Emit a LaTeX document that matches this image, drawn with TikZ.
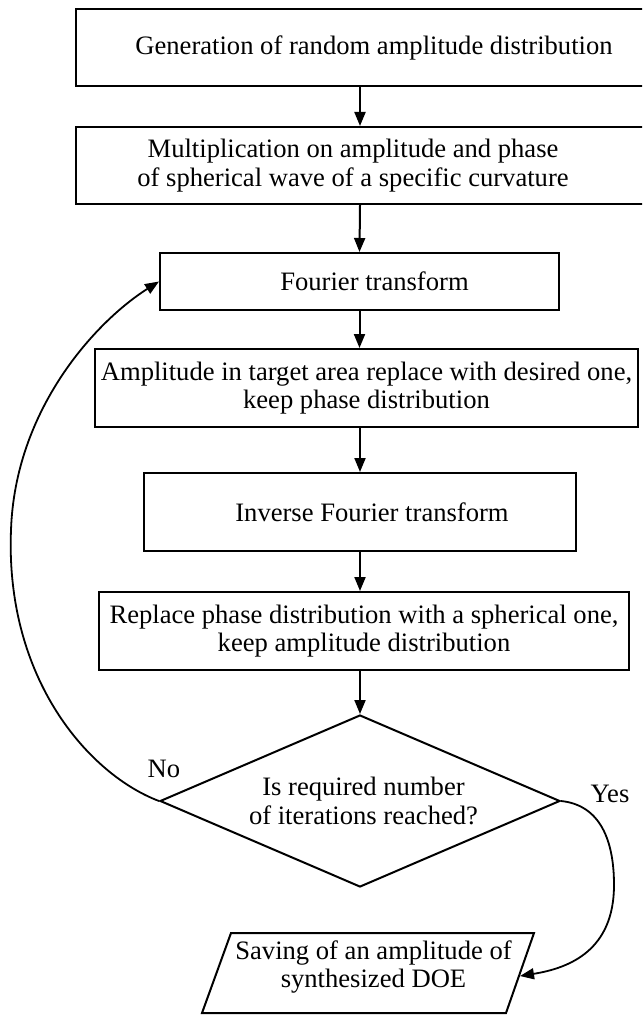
\documentclass[tikz,border=0pt]{standalone}
\usepackage{fontspec}
\setmainfont{Liberation Serif}
\usetikzlibrary{arrows.meta,shapes.geometric}
\newcommand\figfont{\fontsize{26.6}{28.5}\selectfont}
\tikzset{
  box/.style={draw, line width=2pt, inner sep=2pt, align=center, font=\figfont},
  decision/.style={draw, diamond, line width=2pt, inner sep=0pt, align=center, font=\figfont, aspect=2.33},
  txt/.style={inner sep=0pt, align=center, font=\figfont},
  flow/.style={-{Triangle[length=14pt,width=11pt]}, line width=2pt},
  loop/.style={-{Triangle[length=14pt,width=11pt]}, line width=1.8pt},
}
\begin{document}
\begin{tikzpicture}[x=1pt,y=-1pt]
\useasboundingbox (0,0) rectangle (642,1016);
\clip (0,0) rectangle (642,1016);
\fill[white] (0,0) rectangle (642,1016);

\node[box, minimum width=568pt, minimum height=77pt] (b1) at (360,47.5)
  {\hspace*{28pt}Generation of random amplitude distribution};
\node[box, minimum width=568pt, minimum height=77pt] (b2) at (360,165.5)
  {Multiplication on amplitude and phase\hspace*{14pt}\null\\of spherical wave of a specific curvature\hspace*{14pt}\null};
\node[box, minimum width=399pt, minimum height=57pt] (b3) at (359.5,281.5)
  {\hspace*{30pt}Fourier transform};
\node[box, minimum width=543pt, minimum height=78pt] (b4) at (366.5,388)
  {Amplitude in target area replace with desired one,\\keep phase distribution};
\node[box, minimum width=432pt, minimum height=78pt] (b5) at (360,512)
  {\hspace*{24pt}Inverse Fourier transform};
\node[box, minimum width=530pt, minimum height=78pt] (b6) at (364,631)
  {Replace phase distribution with a spherical one,\\keep amplitude distribution};
\node[decision, minimum width=400pt, minimum height=172pt] (dm) at (360,801)
  {\hspace*{7pt}Is required number\\\hspace*{7pt}of iterations reached?};
\node[txt] (sv) at (373.5,967)
  {Saving of an amplitude of\\synthesized DOE};
\draw[line width=2pt, line join=miter] (231,933) -- (534,933) -- (506,1013) -- (202,1013) -- cycle;
\coordinate (svR) at (520,976);

\node[txt] (no) at (164,769) {No};
\node[txt] (yes) at (610,794) {Yes};

\draw[flow] (b1.south) -- (b2.north);
\draw[flow] (b2.south) -- (b3.north);
\draw[flow] (b3.south) -- (b3.south |- b4.north);
\draw[flow] (b5.north |- b4.south) -- (b5.north);
\draw[flow] (b5.south) -- (b5.south |- b6.north);
\draw[flow] (dm.north |- b6.south) -- (dm.north);

\draw[loop] (dm.west) .. controls (90,775) and (5,680) .. (11,530)
  .. controls (15,410) and (95,322) .. (b3.west);
\draw[loop] (dm.east) .. controls (600,805) and (614,840) .. (614,885)
  .. controls (614,950) and (570,968) .. (svR);
\end{tikzpicture}
\end{document}
